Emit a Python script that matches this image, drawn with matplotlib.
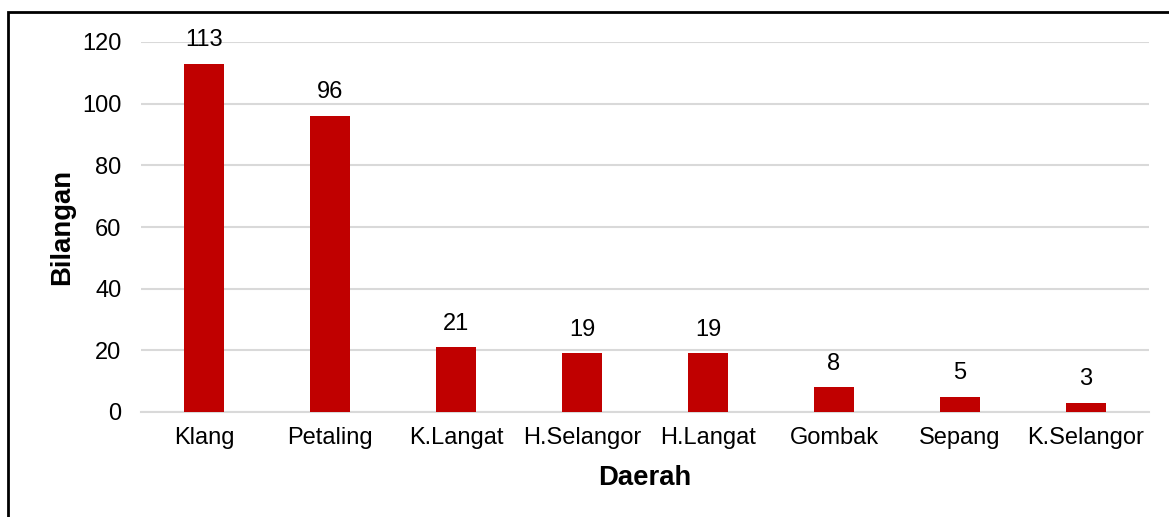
import matplotlib.pyplot as plt
from matplotlib.patches import Rectangle

plt.rcParams['font.family'] = ['Liberation Sans', 'DejaVu Sans']

daerah = ['Klang', 'Petaling', 'K.Langat', 'H.Selangor', 'H.Langat',
          'Gombak', 'Sepang', 'K.Selangor']
bilangan = [113, 96, 21, 19, 19, 8, 5, 3]
yticks = [0, 20, 40, 60, 80, 100, 120]

W, H = 1169, 517
fig = plt.figure(figsize=(W / 100, H / 100), dpi=100)
ax = fig.add_axes([141 / W, 1 - 412 / H, (1149 - 141) / W, 370 / H])

x = range(len(daerah))
bars = ax.bar(x, bilangan, width=0.32, color='#c00000', zorder=3)
for b, v in zip(bars, bilangan):
    ax.annotate(str(v), (b.get_x() + b.get_width() / 2, v),
                xytext=(0, 9), textcoords='offset points',
                ha='center', va='bottom', fontsize=17, color='#000000')

ax.set_xlim(-0.5, len(daerah) - 0.5)
ax.set_ylim(0, 120)
ax.set_yticks(yticks)
ax.set_xticks(list(x))
ax.set_xticklabels(daerah)
ax.tick_params(axis='both', length=0, labelsize=17, colors='#000000')
ax.tick_params(axis='y', pad=14)
ax.tick_params(axis='x', pad=11)
ax.yaxis.grid(True, color='#d9d9d9', linewidth=1.5, zorder=0)
ax.set_axisbelow(True)
for s in ['top', 'right', 'left']:
    ax.spines[s].set_visible(False)
ax.spines['bottom'].set_color('#d9d9d9')
ax.spines['bottom'].set_linewidth(1.5)

# axis titles
fig.text(645 / W, 1 - 478 / H, 'Daerah', fontsize=19.8, fontweight='bold',
         ha='center', va='center')
fig.text(62 / W, 1 - 227 / H, 'Bilangan', fontsize=19.8, fontweight='bold',
         ha='center', va='center', rotation=90)

# outer frame of the chart area
fig.patches.append(Rectangle((8 / W, -0.1), 1.2, 1 - 12 / H + 0.1,
                             transform=fig.transFigure, fill=False,
                             edgecolor='black', linewidth=2))

fig.savefig('out.png', dpi=100)
